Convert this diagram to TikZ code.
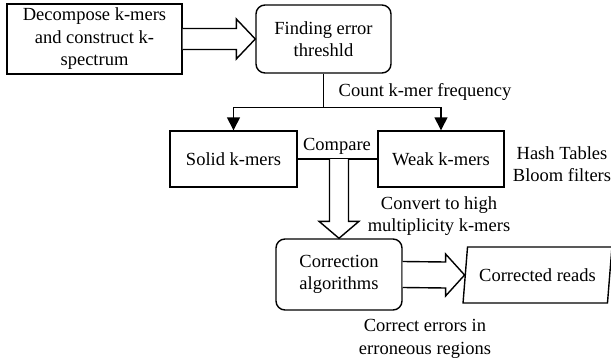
\documentclass[tikz,border=0pt]{standalone}
\usepackage{fontspec}
\setmainfont{Liberation Serif}
\usetikzlibrary{shapes.geometric,arrows.meta,calc}
\begin{document}
\begin{tikzpicture}[x=1pt,y=-1pt,
  every node/.style={font=\fontsize{18.5}{22.5}\selectfont},
  box/.style={draw,line width=1.4pt,align=center,inner sep=0pt},
  rbox/.style={box,rounded corners=9pt},
  lbl/.style={align=center,inner sep=0pt},
  conn/.style={line width=1.4pt},
  tri/.style={-{Triangle[width=13pt,length=13pt]}},
  blk/.style={draw,line width=1.4pt,fill=white,line join=miter}]
\useasboundingbox (0,0) rectangle (611,364);
\node[box,minimum width=175pt,minimum height=70pt] (dec) at (94.5,39) {Decompose k-mers\\and construct k-\\spectrum};
\node[rbox,minimum width=135pt,minimum height=68pt] (find) at (323.5,39) {Finding error\\threshld};
\node[box,minimum width=127pt,minimum height=56pt] (solid) at (233.5,159) {Solid k-mers};
\node[box,minimum width=126pt,minimum height=56pt] (weak) at (441,159) {Weak k-mers};
\node[rbox,minimum width=126pt,minimum height=71pt] (corr) at (339,274.5) {Correction\\algorithms};
\node[draw,line width=1.4pt,trapezium,trapezium left angle=74,trapezium right angle=106,trapezium stretches=true,minimum width=149pt,minimum height=56pt,inner sep=0pt] (reads) at (537.5,275) {Corrected reads};
% block arrow 1
\path[blk] ($(dec.east)+(0,-10.5)$) -- ($(find.west)+(-19,-10.5)$) -- ($(find.west)+(-19,-20)$) -- (find.west)
  -- ($(find.west)+(-19,20)$) -- ($(find.west)+(-19,10.5)$) -- ($(dec.east)+(0,10.5)$);
% count connector
\draw[conn] (find.south) -- ++(0,34) coordinate (j);
\draw[conn,tri] (j) -| (solid.north);
\draw[conn,tri] (j) -| (weak.north);
\node[lbl] (cnt) at (425,92) {Count k-mer frequency};
% compare
\draw[conn] (solid.east) -- (weak.west);
\coordinate (cmp) at (corr.north |- solid.east);
\node[lbl] (cmpl) at (337,146) {Compare};
% block arrow down
\path[blk] ($(cmp)+(-9.5,0)$) -- ($(corr.north)+(-9.5,-17)$) -- ($(corr.north)+(-20,-17)$) -- (corr.north)
  -- ($(corr.north)+(20,-17)$) -- ($(corr.north)+(9.5,-17)$) -- ($(cmp)+(9.5,0)$);
\node[lbl] (conv) at (439,216) {Convert to high\\multiplicity k-mers};
\node[lbl] (hash) at (562,164) {Hash Tables\\Bloom filters};
% block arrow 2
\path[blk] ($(corr.east)+(0,-13)$) -- ($(reads.west)+(-19,-13)$) -- ($(reads.west)+(-19,-21)$) -- (reads.west)
  -- ($(reads.west)+(-19,21)$) -- ($(reads.west)+(-19,13)$) -- ($(corr.east)+(0,13)$);
\node[lbl] (cerr) at (425,339) {Correct errors in\\erroneous regions};
\end{tikzpicture}
\end{document}
